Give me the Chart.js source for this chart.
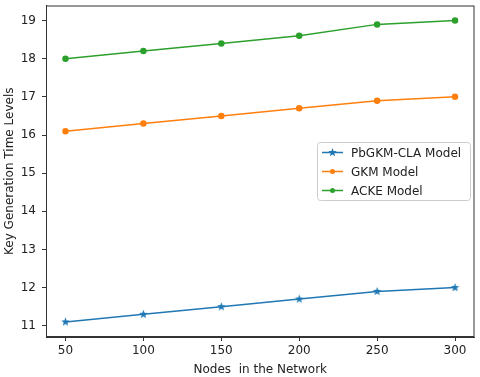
<!DOCTYPE html>
<html>
<head>
<meta charset="utf-8">
<script src="https://cdn.jsdelivr.net/npm/chart.js@4"></script>
<style>
  html, body { margin: 0; padding: 0; background: #fff; }
  #wrap { width: 480px; height: 377px; }
</style>
</head>
<body>
<div id="wrap"><canvas id="chart" width="480" height="377"></canvas></div>
<script>
const nodes = [50, 100, 150, 200, 250, 300];
const pbgkm = [11.1, 11.3, 11.5, 11.7, 11.9, 12.0];
const gkm = [16.1, 16.3, 16.5, 16.7, 16.9, 17.0];
const acke = [18.0, 18.2, 18.4, 18.6, 18.9, 19.0];
const xTicks = [50, 100, 150, 200, 250, 300];
const yTicks = [11, 12, 13, 14, 15, 16, 17, 18, 19];

const FONT = "'DejaVu Sans', sans-serif";

// filled 5-point star marker like matplotlib '*'
function starMarker(color, r) {
  const c = document.createElement('canvas');
  const s = Math.ceil(r * 2 + 2);
  c.width = s; c.height = s;
  const g = c.getContext('2d');
  g.translate(s / 2, s / 2);
  g.beginPath();
  for (let i = 0; i < 10; i++) {
    const rad = i % 2 === 0 ? r : r * 0.42;
    const a = -Math.PI / 2 + i * Math.PI / 5;
    g.lineTo(rad * Math.cos(a), rad * Math.sin(a));
  }
  g.closePath();
  g.fillStyle = color;
  g.fill();
  return c;
}

const pts = v => v.map((y, i) => ({ x: nodes[i], y }));

const boxPlugin = {
  id: 'box',
  afterDraw(chart) {
    const { ctx, chartArea: a } = chart;
    ctx.save();
    ctx.strokeStyle = '#333';
    ctx.lineWidth = 1;
    ctx.strokeRect(a.left + 0.5, a.top + 0.5, a.right - a.left - 1, a.bottom - a.top - 1);

    // legend
    const lx = 317, ly = 142, lw = 153, lh = 58;
    ctx.fillStyle = 'rgba(255,255,255,0.8)';
    ctx.strokeStyle = '#ccc';
    ctx.beginPath();
    ctx.roundRect(lx + 0.5, ly + 0.5, lw, lh, 3);
    ctx.fill();
    ctx.stroke();
    ctx.font = '12px ' + FONT;
    ctx.textBaseline = 'middle';
    chart.data.datasets.forEach((ds, i) => {
      const y = ly + 10.5 + i * 19;
      ctx.strokeStyle = ds.borderColor;
      ctx.lineWidth = 1.5;
      ctx.beginPath();
      ctx.moveTo(lx + 5, y);
      ctx.lineTo(lx + 26, y);
      ctx.stroke();
      if (ds.pointStyle instanceof HTMLCanvasElement) {
        const m = ds.pointStyle;
        ctx.drawImage(m, lx + 15.5 - m.width / 2, y - m.height / 2);
      } else {
        ctx.fillStyle = ds.borderColor;
        ctx.beginPath();
        ctx.arc(lx + 15.5, y, 2.5, 0, Math.PI * 2);
        ctx.fill();
      }
      ctx.fillStyle = '#222';
      ctx.fillText(ds.label, lx + 34, y + 1);
    });
    ctx.restore();
  }
};

new Chart(document.getElementById('chart'), {
  type: 'line',
  data: {
    datasets: [
      {
        label: 'PbGKM-CLA Model',
        data: pts(pbgkm),
        borderColor: '#1f77b4',
        backgroundColor: '#1f77b4',
        pointStyle: starMarker('#1f77b4', 4.5),
        borderWidth: 1.5,
      },
      {
        label: 'GKM Model',
        data: pts(gkm),
        borderColor: '#ff7f0e',
        backgroundColor: '#ff7f0e',
        pointStyle: 'circle',
        pointRadius: 2.5,
        borderWidth: 1.5,
      },
      {
        label: 'ACKE Model',
        data: pts(acke),
        borderColor: '#2ca02c',
        backgroundColor: '#2ca02c',
        pointStyle: 'circle',
        pointRadius: 2.5,
        borderWidth: 1.5,
      },
    ],
  },
  options: {
    responsive: false,
    animation: false,
    layout: { padding: { top: 5, right: 3, left: 0, bottom: 0 } },
    plugins: {
      legend: { display: false },
      tooltip: { enabled: false },
    },
    scales: {
      x: {
        type: 'linear',
        min: 37.5,
        max: 312.5,
        afterBuildTicks: s => { s.ticks = xTicks.map(v => ({ value: v })); },
        afterFit: s => { s.height = 40; s.paddingLeft = 0; s.paddingRight = 0; },
        grid: { drawOnChartArea: false, drawTicks: true, tickLength: 4, color: '#333' },
        border: { color: '#333' },
        ticks: { color: '#222', font: { family: FONT, size: 12 }, padding: 3, maxRotation: 0 },
        title: { display: true, text: 'Nodes  in the Network', color: '#222', font: { family: FONT, size: 12 }, padding: { top: 0, bottom: 0 } },
      },
      y: {
        min: 10.705,
        max: 19.395,
        afterBuildTicks: s => { s.ticks = yTicks.map(v => ({ value: v })); },
        afterFit: s => { s.width = 46; s.paddingTop = 0; s.paddingBottom = 0; },
        grid: { drawOnChartArea: false, drawTicks: true, tickLength: 4, color: '#333' },
        border: { color: '#333' },
        ticks: { color: '#222', font: { family: FONT, size: 12 }, padding: 6 },
        title: { display: true, text: 'Key Generation Time Levels', color: '#222', font: { family: FONT, size: 12 }, padding: { top: 3, bottom: 0 } },
      },
    },
  },
  plugins: [boxPlugin],
});
</script>
</body>
</html>
